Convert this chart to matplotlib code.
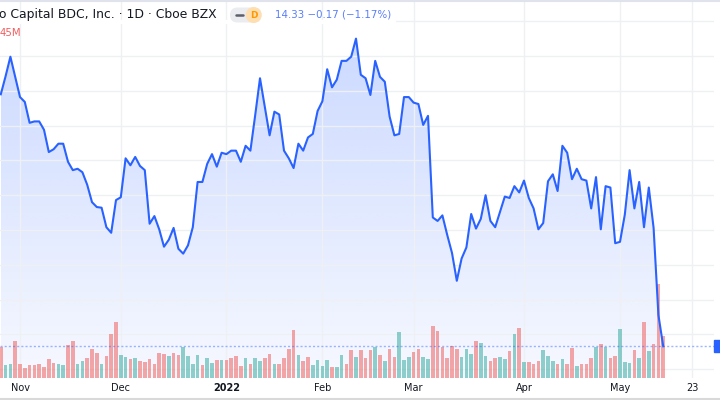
import numpy as np
import pandas as pd
import matplotlib
matplotlib.use('Agg')
import matplotlib.pyplot as plt
from matplotlib.patches import Rectangle, FancyBboxPatch, Circle, Polygon

# daily closes, Oct 26 2021 .. May 13 2022 (one per trading day)
close = [17.95, 18.21, 18.49, 18.20, 17.91, 17.84, 17.54, 17.56, 17.56, 17.44,
         17.12, 17.16, 17.24, 17.24, 16.98, 16.86, 16.88, 16.83, 16.65, 16.40,
         16.33, 16.32, 16.04, 15.96, 16.43, 16.47, 17.03, 16.93, 17.05, 16.92,
         16.86, 16.09, 16.20, 16.01, 15.76, 15.86, 16.03, 15.73, 15.66, 15.78,
         16.04, 16.69, 16.69, 16.95, 17.09, 16.91, 17.11, 17.09, 17.14, 17.14,
         16.98, 17.21, 17.14, 17.65, 18.18, 17.77, 17.36, 17.70, 17.66, 17.14,
         17.03, 16.89, 17.24, 17.14, 17.33, 17.38, 17.71, 17.85, 18.31, 18.05,
         18.16, 18.43, 18.43, 18.49, 18.75, 18.23, 18.18, 17.94, 18.43, 18.20,
         18.13, 17.63, 17.36, 17.38, 17.91, 17.91, 17.83, 17.81, 17.51, 17.64,
         16.18, 16.13, 16.21, 15.93, 15.67, 15.27, 15.59, 15.75, 16.23, 16.02,
         16.16, 16.50, 16.13, 16.04, 16.26, 16.48, 16.46, 16.63, 16.54, 16.71,
         16.46, 16.31, 16.01, 16.10, 16.70, 16.80, 16.56, 17.21, 17.11, 16.73,
         16.88, 16.73, 16.71, 16.31, 16.76, 16.01, 16.63, 16.61, 15.81, 15.83,
         16.22, 16.86, 16.31, 16.69, 16.04, 16.61, 16.03, 14.78, 14.33]

# volume in thousands of shares
volume = [1060, 438, 494, 1288, 494, 345, 438, 459, 494, 380,
          656, 518, 494, 459, 1150, 1288, 494, 597, 680, 991,
          873, 494, 770, 1529, 1923, 794, 715, 656, 680, 597,
          542, 656, 494, 873, 818, 770, 853, 794, 1070, 770,
          494, 794, 438, 680, 518, 632, 632, 632, 680, 770,
          404, 701, 494, 701, 576, 680, 818, 494, 494, 680,
          991, 1647, 794, 576, 735, 459, 632, 404, 632, 369,
          369, 794, 494, 956, 735, 956, 701, 956, 1070, 794,
          597, 991, 735, 1588, 621, 735, 908, 1011, 735, 656,
          1785, 1622, 1070, 680, 1094, 991, 735, 1011, 818, 1288,
          1219, 770, 587, 680, 725, 646, 922, 1509, 1716, 542,
          563, 483, 587, 977, 749, 587, 483, 646, 483, 1036,
          414, 483, 483, 680, 1080, 1174, 1070, 701, 749, 1692,
          542, 507, 956, 690, 1943, 922, 1174, 3245, 1450]

# g = up bar, r = down bar
vol_dir = ("rggrrrrrrr" "rrggrrggrr" "rgrrrggrgr" "rrrrrgrrgg" "ggrggrgrrr"
           "rgrggrrgrr" "rrgrrggggr" "ggrrgrrrgr" "grrgggrrgg" "rrrrrrgggr"
           "ggrrggrgrg" "rrrgggrgrr" "grrrgrgrrg" "ggrgrgrrr")

holidays = ['2021-11-25', '2021-12-24', '2022-01-17', '2022-02-21', '2022-04-15']
month_starts = ['2021-11-01', '2021-12-01', '2022-01-01', '2022-02-01',
                '2022-03-01', '2022-04-01', '2022-05-01', '2022-05-23']
tick_labels = ['Nov', 'Dec', '2022', 'Feb', 'Mar', 'Apr', 'May', '23']

title = 'o Capital BDC, Inc. \u00b7 1D \u00b7 Cboe BZX'
last_txt = '14.33 \u22120.17 (\u22121.17%)'
vol_txt = '45M'

# trading calendar
days = pd.bdate_range('2021-10-26', '2022-05-31', freq='C', holidays=holidays)
x = np.arange(len(close))
tick_pos = [int(np.searchsorted(days, pd.Timestamp(d))) for d in month_starts]

W, H = 720, 400
BAR = 4.8          # px per trading day
PX_PER_PRICE = 69.6


def px_rect(x0, y0, x1, y1):
    return [x0 / W, 1 - y1 / H, (x1 - x0) / W, (y1 - y0) / H]


fig = plt.figure(figsize=(7.2, 4), dpi=100)
fig.patch.set_facecolor('white')

ax = fig.add_axes(px_rect(0, 0, 714, 378))
xlim = (-0.8 / BAR, (714 - 0.8) / BAR)
ylim = (14.5 - (378 - 334.4) / PX_PER_PRICE, 14.5 + 334.4 / PX_PER_PRICE)

# gradient under the line
blue = np.array([41, 98, 255]) / 255
top_p = max(close)
grad = np.zeros((256, 1, 4))
grad[:, 0, :3] = blue
grad[:, 0, 3] = np.linspace(0.24, 0.04, 256)
im = ax.imshow(grad, extent=[x[0], x[-1], ylim[0], top_p], aspect='auto',
               origin='upper', zorder=1)
verts = [(x[0], ylim[0])] + list(zip(x, close)) + [(x[-1], ylim[0])]
poly = Polygon(verts, closed=True, facecolor='none', edgecolor='none')
ax.add_patch(poly)
im.set_clip_path(poly)

ax.set_xlim(*xlim)
ax.set_ylim(*ylim)
ax.set_yticks(np.arange(14.0, 19.01, 0.5))
ax.set_xticks(tick_pos)
ax.set_xticklabels(tick_labels, fontsize=7, color='#131722')
ax.get_xticklabels()[2].set_fontweight('bold')
ax.tick_params(axis='x', length=0, pad=3.5)
ax.tick_params(axis='y', length=0, labelleft=False)
ax.grid(True, color='#eef0f4', lw=1, zorder=0)
for s in ax.spines.values():
    s.set_visible(False)

# volume
axv = ax.twinx()
vmax = 378 * 1450 / 42
axv.set_ylim(0, vmax)
cols = ['#26a69a' if d == 'g' else '#ef5350' for d in vol_dir]
axv.bar(x, volume, width=0.78, color=cols, alpha=0.5, linewidth=0)
axv.axis('off')
axv.set_xlim(*xlim)

# price line
axl = ax.twinx()
axl.set_ylim(*ylim)
axl.set_xlim(*xlim)
axl.plot(x, close, color='#2962ff', lw=1.5, solid_joinstyle='round')
axl.axhline(close[-1], color='#2962ff', alpha=0.45, lw=1, linestyle=(0, (1.5, 1.5)))
axl.axis('off')

# header / decorations in pixel coords
ov = fig.add_axes([0, 0, 1, 1])
ov.set_xlim(0, W)
ov.set_ylim(H, 0)
ov.axis('off')
ov.plot([0, W], [0.5, 0.5], color='#e0e3eb', lw=1.5)
ov.plot([0, W], [399.3, 399.3], color='#d9d9d9', lw=1.5)
ov.add_patch(Rectangle((0, 19.5), 395, 3, color='white', zorder=1))
ov.text(-1, 14.5, title, fontsize=8.9, color='#131722', va='center', ha='left', zorder=2)
ov.add_patch(FancyBboxPatch((230, 7.5), 31.5, 15, boxstyle='round,pad=0,rounding_size=7.5',
                            facecolor='#ebecef', edgecolor='none', zorder=2))
ov.plot([235.5, 242.5], [15, 15], color='#5d606b', lw=1.8, zorder=3, solid_capstyle='round')
ov.add_patch(Circle((253.7, 15), 8, facecolor='#ffdfb0', edgecolor='none', zorder=3))
ov.text(253.7, 15.3, 'D', fontsize=6.5, color='#ff9800', fontweight='bold',
        ha='center', va='center', zorder=4)
ov.text(275, 14.8, last_txt, fontsize=7.4, color='#5a7ef7', va='center', ha='left', zorder=2)
ov.text(0, 33, vol_txt, fontsize=7.3, color='#f25c5f', va='center', ha='left', zorder=2)
ov.add_patch(Rectangle((714, 340), 6, 12, color='#2962ff'))

fig.savefig('out.png', dpi=100)
